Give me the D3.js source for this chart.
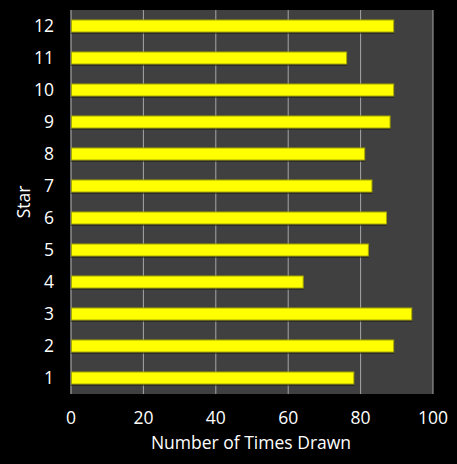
<!DOCTYPE html>
<html>
<head>
<meta charset="utf-8">
<script src="https://cdn.jsdelivr.net/npm/d3@7"></script>
<style>
  body { margin: 0; background: #000; }
  svg { display: block; font-family: "Open Sans", "Noto Sans", sans-serif; }
</style>
</head>
<body>
<svg id="chart" width="457" height="464"></svg>
<script>
const stars = ["1", "2", "3", "4", "5", "6", "7", "8", "9", "10", "11", "12"]
const timesDrawn = [78, 89, 94, 64, 82, 87, 83, 81, 88, 89, 76, 89]
const xTicks = [0, 20, 40, 60, 80, 100]

const svg = d3.select("#chart")
const margin = { top: 10, right: 24, bottom: 70, left: 71 }
const width = 457 - margin.left - margin.right
const height = 464 - margin.top - margin.bottom
const fontSize = 17.5

svg.append("rect").attr("width", 457).attr("height", 464).attr("fill", "#000")

const g = svg.append("g").attr("transform", `translate(${margin.left},${margin.top})`)

const x = d3.scaleLinear().domain([0, 100]).range([0, width])
const y = d3.scaleBand().domain(stars.slice().reverse()).range([0, height]).paddingInner(0.625).paddingOuter(0.3125)

// plot background
g.append("rect").attr("width", width).attr("height", height).attr("fill", "#404040")

// gridlines
g.selectAll(".grid")
    .data(xTicks.slice(1))
    .enter()
    .append("line")
    .attr("x1", (d) => x(d))
    .attr("x2", (d) => x(d))
    .attr("y1", 0)
    .attr("y2", height)
    .attr("stroke", "#a6a6a6")
    .attr("stroke-width", 1)

// left axis line
g.append("line").attr("x1", 0).attr("x2", 0).attr("y1", 0).attr("y2", height)
    .attr("stroke", "#8c8c8c").attr("stroke-width", 1.5)

// bar shadows
g.selectAll(".shadow")
    .data(stars)
    .enter()
    .append("rect")
    .attr("x", 0)
    .attr("y", (d) => y(d) + 2)
    .attr("width", (d, i) => x(timesDrawn[i]) + 1)
    .attr("height", y.bandwidth())
    .attr("fill", "#1e1e1e")
    .attr("opacity", 0.6)

// bars
g.selectAll(".bar")
    .data(stars)
    .enter()
    .append("rect")
    .attr("x", 0.5)
    .attr("y", (d) => y(d))
    .attr("width", (d, i) => x(timesDrawn[i]))
    .attr("height", y.bandwidth())
    .attr("fill", "#ffff00")
    .attr("stroke", "#a6a600")
    .attr("stroke-width", 1)

// y tick labels
g.selectAll(".ylab")
    .data(stars)
    .enter()
    .append("text")
    .attr("x", -17)
    .attr("y", (d) => y(d) + y.bandwidth() / 2)
    .attr("dy", "0.36em")
    .attr("text-anchor", "end")
    .attr("fill", "#fff")
    .attr("font-size", fontSize)
    .text((d) => d)

// x tick labels
g.selectAll(".xlab")
    .data(xTicks)
    .enter()
    .append("text")
    .attr("x", (d) => x(d))
    .attr("y", height + 24)
    .attr("dy", "0.36em")
    .attr("text-anchor", "middle")
    .attr("fill", "#fff")
    .attr("font-size", fontSize)
    .text((d) => d)

// axis titles
svg.append("text")
    .attr("x", margin.left + width / 2 - 1)
    .attr("y", 443)
    .attr("dy", "0.36em")
    .attr("text-anchor", "middle")
    .attr("fill", "#fff")
    .attr("font-size", fontSize)
    .text("Number of Times Drawn")

svg.append("text")
    .attr("transform", `translate(24,${margin.top + height / 2}) rotate(-90)`)
    .attr("dy", "0.36em")
    .attr("text-anchor", "middle")
    .attr("fill", "#fff")
    .attr("font-size", fontSize)
    .text("Star")
</script>
</body>
</html>
